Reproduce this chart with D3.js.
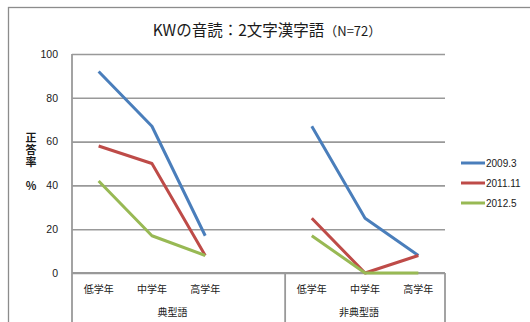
<!DOCTYPE html>
<html>
<head>
<meta charset="utf-8">
<script src="https://cdn.jsdelivr.net/npm/d3@7"></script>
<style>
  html, body { margin: 0; padding: 0; background: #fff; }
  #wrap { position: relative; width: 530px; height: 322px; }
  svg { display: block; font-family: "Noto Sans CJK JP", "Noto Sans", sans-serif; }
  .y-title {
    position: absolute;
    writing-mode: vertical-rl;
    text-orientation: upright;
    font-family: "Noto Sans CJK JP", sans-serif;
    font-weight: bold;
    font-size: 11px;
    line-height: 12px;
    letter-spacing: 1px;
    color: #1a1a1a;
    white-space: nowrap;
  }
  .y-title .unit { margin-top: 12px; }
</style>
</head>
<body>
<div id="wrap">
<svg id="chart" width="530" height="322"></svg>
</div>
<script>
// Chart data
const categories = ["低学年", "中学年", "高学年", "", "低学年", "中学年", "高学年"];
const groups = ["典型語", "非典型語"];
const groupSpans = [4, 3];
const seriesNames = ["2009.3", "2011.11", "2012.5"];
const values2009 = [92, 67, 17, null, 67, 25, 8];
const values2011 = [58, 50, 8, null, 25, 0, 8];
const values2012 = [42, 17, 8, null, 17, 0, 0];
const yTicks = [0, 20, 40, 60, 80, 100];
const colors = ["#4A7EBB", "#BE4B48", "#98B954"];

const series = [values2009, values2011, values2012];

const svg = d3.select("#chart");
const W = 530, H = 322;
const plot = { left: 72, right: 445, top: 54, bottom: 273 };
const gray = "#8c8c8c";

// Outer chart frame
svg.append("rect")
  .attr("x", 8.5).attr("y", 7.5)
  .attr("width", 540).attr("height", 340)
  .attr("fill", "#fff").attr("stroke", gray).attr("stroke-width", 1.3);

// Title
const title = svg.append("text")
  .attr("x", 267).attr("y", 36)
  .attr("text-anchor", "middle")
  .attr("fill", "#1a1a1a");
title.append("tspan").attr("font-size", 15.5).text("KWの音読：2文字漢字語");
title.append("tspan").attr("font-size", 13).text("（N=72）");

const x = d3.scaleBand()
  .domain(d3.range(categories.length))
  .range([plot.left, plot.right])
  .paddingInner(0).paddingOuter(0);

const y = d3.scaleLinear().domain([0, 100]).range([plot.bottom, plot.top]);

// Gridlines + y tick labels
const yAxis = d3.axisLeft(y)
  .tickValues(yTicks)
  .tickSize(-(plot.right - plot.left))
  .tickPadding(14);
const gy = svg.append("g")
  .attr("transform", `translate(${plot.left},0)`)
  .call(yAxis);
gy.select(".domain").remove();
gy.selectAll(".tick line").attr("stroke", "#999").attr("stroke-width", 1.6);
gy.selectAll(".tick text")
  .attr("font-size", 10.5)
  .attr("fill", "#1a1a1a")
  .attr("font-family", "Liberation Sans, Arial, sans-serif");

// Vertical axis line
svg.append("line")
  .attr("x1", plot.left).attr("x2", plot.left)
  .attr("y1", plot.top).attr("y2", H)
  .attr("stroke", "#999").attr("stroke-width", 1.8);

// Category axis line
svg.append("line")
  .attr("x1", plot.left).attr("x2", plot.right)
  .attr("y1", plot.bottom).attr("y2", plot.bottom)
  .attr("stroke", "#999").attr("stroke-width", 1.8);

// Group dividers on the category axis
let acc = 0;
const bounds = [0];
groupSpans.forEach(s => { acc += s; bounds.push(acc); });
bounds.slice(1).forEach(b => {
  const bx = plot.left + b * x.step();
  svg.append("line")
    .attr("x1", bx).attr("x2", bx)
    .attr("y1", plot.bottom).attr("y2", H)
    .attr("stroke", "#999").attr("stroke-width", 1.8);
});

// Category labels
svg.append("g").selectAll("text")
  .data(categories)
  .join("text")
  .attr("x", (d, i) => x(i) + x.bandwidth() / 2)
  .attr("y", 293)
  .attr("text-anchor", "middle")
  .attr("font-size", 10)
  .attr("fill", "#1a1a1a")
  .text(d => d);

// Group labels
svg.append("g").selectAll("text")
  .data(groups)
  .join("text")
  .attr("x", (d, i) => (x(bounds[i]) + plot.left + bounds[i + 1] * x.step()) / 2 - 6)
  .attr("y", 316)
  .attr("text-anchor", "middle")
  .attr("font-size", 10)
  .attr("fill", "#1a1a1a")
  .text(d => d);

// Series lines
const line = d3.line()
  .defined(d => d != null)
  .x((d, i) => x(i) + x.bandwidth() / 2)
  .y(d => y(d));

svg.append("g").selectAll("path")
  .data(series)
  .join("path")
  .attr("d", d => line(d))
  .attr("fill", "none")
  .attr("stroke", (d, i) => colors[i])
  .attr("stroke-width", 3)
  .attr("stroke-linejoin", "round");

// Y axis title in vertical writing
const yTitle = d3.select("#wrap").append("div")
  .attr("class", "y-title")
  .style("left", "25px")
  .style("top", "132px");
yTitle.append("span").text("正答率");
yTitle.append("span").attr("class", "unit").text("%");

// Legend
const legend = svg.append("g");
seriesNames.forEach((name, i) => {
  const ly = 163 + i * 20;
  legend.append("line")
    .attr("x1", 461).attr("x2", 485)
    .attr("y1", ly).attr("y2", ly)
    .attr("stroke", colors[i]).attr("stroke-width", 3);
  legend.append("text")
    .attr("x", 486).attr("y", ly + 4)
    .attr("font-size", 10)
    .attr("fill", "#1a1a1a")
    .attr("font-family", "Liberation Sans, Arial, sans-serif")
    .text(name);
});
</script>
</body>
</html>
